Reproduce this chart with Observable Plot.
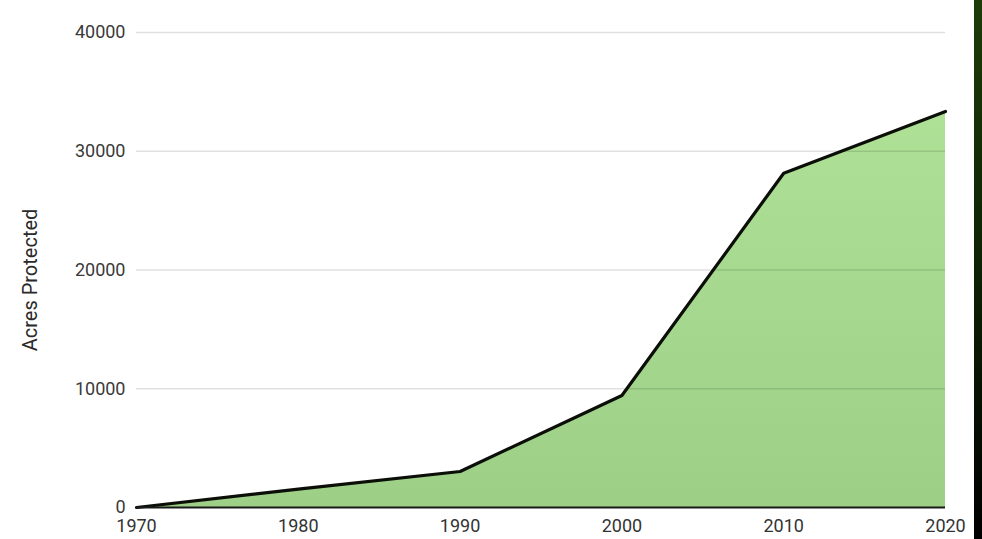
<!DOCTYPE html>
<html>
<head>
<meta charset="utf-8">
<script src="https://cdn.jsdelivr.net/npm/d3@7"></script>
<script src="https://cdn.jsdelivr.net/npm/@observablehq/plot@0.6"></script>
<style>
  html, body { margin: 0; padding: 0; background: #fff; }
  #wrap { position: relative; width: 982px; height: 539px; overflow: hidden; }
  #strip { position: absolute; left: 974px; top: 0; width: 8px; height: 539px;
           background: linear-gradient(#1d3c08, #0d2204 50%, #000); }
  #chart { position: absolute; left: 0; top: 0; }
</style>
</head>
<body>
<div id="wrap"><div id="chart"></div><div id="strip"></div></div>
<script>
const years = [1970, 1980, 1990, 2000, 2010, 2020];
const acres = [0, 1550, 3030, 9430, 28150, 33350];
const xTicks = [1970, 1980, 1990, 2000, 2010, 2020];
const yTicks = [0, 10000, 20000, 30000, 40000];
const yLabel = "Acres Protected";

const data = years.map((y, i) => ({year: y, acres: acres[i]}));

const chart = Plot.plot({
  width: 974,
  height: 539,
  marginTop: 32,
  marginBottom: 32,
  marginLeft: 136,
  marginRight: 29,
  style: {fontFamily: "Roboto, sans-serif", fontSize: "18px", color: "#3a3a3a", background: "transparent"},
  x: {domain: [1970, 2020], ticks: xTicks, tickFormat: d => String(d), tickSize: 0, tickPadding: 12, label: null},
  y: {domain: [0, 40000], ticks: yTicks, tickFormat: d => String(d), tickSize: 0, tickPadding: 11, label: null},
  marks: [
    Plot.areaY(data, {x: "year", y: "acres", fill: "url(#areaGrad)"}),
    Plot.ruleY(yTicks.slice(1), {stroke: "#000", strokeOpacity: 0.12, strokeWidth: 1.6}),
    Plot.lineY(data, {x: "year", y: "acres", stroke: "#0b0f08", strokeWidth: 3.2, strokeLinejoin: "round"}),
    Plot.ruleY([0], {stroke: "#1a1a1a", strokeWidth: 2.2}),
    Plot.axisX({ticks: xTicks, tickFormat: d => String(d), tickSize: 0, tickPadding: 12, fontSize: 18, fill: "#333"}),
    Plot.axisY({ticks: yTicks, tickFormat: d => String(d), tickSize: 0, tickPadding: 11, fontSize: 18, fill: "#3a3a3a", label: null}),
    Plot.text([yLabel], {frameAnchor: "left", textAnchor: "middle", dx: -106, dy: 10, rotate: -90, fontSize: 20, fill: "#2a2a2a"})
  ]
});

const defs = d3.select(chart).insert("defs", ":first-child");
const g = defs.append("linearGradient").attr("id", "areaGrad").attr("x1", 0).attr("y1", 0).attr("x2", 0).attr("y2", 1);
g.append("stop").attr("offset", "0%").attr("stop-color", "#aee196");
g.append("stop").attr("offset", "100%").attr("stop-color", "#9dcf87");

document.getElementById("chart").appendChild(chart);
</script>
</body>
</html>
